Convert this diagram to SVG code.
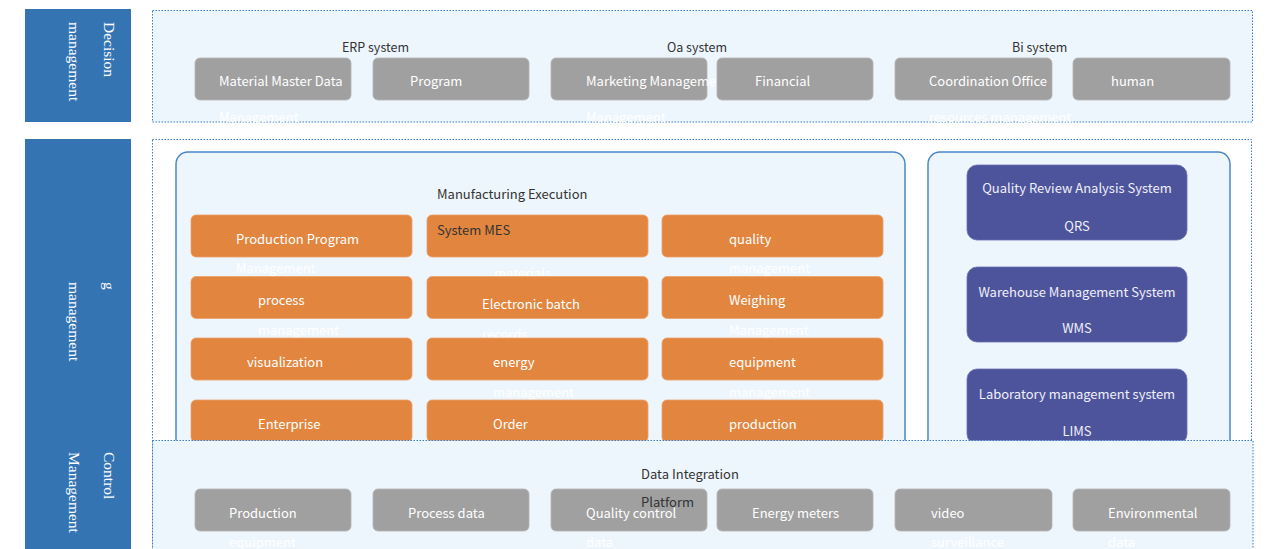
<svg xmlns="http://www.w3.org/2000/svg" width="1267" height="549" viewBox="0 0 1267 549">
<style>
.side{fill:#3574b3}
.vt{font-family:"Liberation Serif",serif;font-size:15.5px;fill:#ffffff}
.panel{fill:#eef6fd;stroke:#3b7bc3;stroke-width:1;stroke-dasharray:1.5 1.5}
.panelw{fill:#ffffff;stroke:#3b7bc3;stroke-width:1;stroke-dasharray:1.5 1.5}
.cont{fill:#eef6fd;stroke:#4a86c6;stroke-width:1.5}
.gray{fill:#a0a0a0;stroke:#b4b4b4;stroke-width:0.8}
.org{fill:#e2863f;stroke:#eba06a;stroke-width:0.8}
.pur{fill:#4e549b;stroke:#6a70ae;stroke-width:0.8}
.t{font-family:"Noto Sans CJK SC","Noto Sans",sans-serif;font-size:13px}
.ts{font-size:12.5px}
.w{fill:#ffffff}
.lp{fill:#eef0fa}
.d{fill:#333333}
</style>
<rect width="1267" height="549" fill="#ffffff"/>

<g id="sidebar-decision">
<rect class="side" x="25" y="9" width="106" height="113"/>
<text class="vt" transform="translate(104,22) rotate(90)">Decision</text>
<text class="vt" transform="translate(68.5,22) rotate(90)">management</text>
</g>
<g id="sidebar-lower">
<rect class="side" x="25" y="139" width="106" height="410"/>
<text class="vt" transform="translate(104,282) rotate(90)">g</text>
<text class="vt" transform="translate(68.5,282) rotate(90)">management</text>
<text class="vt" transform="translate(104,452) rotate(90)">Control</text>
<text class="vt" transform="translate(68.5,452) rotate(90)">Management</text>
</g>

<g id="decision-layer">
<rect class="panel" x="152.5" y="10.5" width="1100" height="111.5"/>
<text class="t ts d" x="342" y="52">ERP system</text>
<text class="t ts d" x="667" y="52">Oa system</text>
<text class="t ts d" x="1012" y="52">Bi system</text>
</g>
<g id="n-material">
<rect class="gray" x="195" y="58" width="156" height="42" rx="5"/>
<text class="t w" x="219" y="86">Material Master Data</text>
<text class="t w" x="219" y="122">Management</text>
</g>
<g id="n-program">
<rect class="gray" x="373" y="58" width="156" height="42" rx="5"/>
<text class="t w" x="410" y="86">Program</text>
</g>
<g id="n-marketing">
<rect class="gray" x="551" y="58" width="156" height="42" rx="5"/>
<text class="t w" x="586" y="86">Marketing Management</text>
<text class="t w" x="586" y="122">Management</text>
</g>
<g id="n-financial">
<rect class="gray" x="717" y="58" width="156" height="42" rx="5"/>
<text class="t w" x="755" y="86">Financial</text>
</g>
<g id="n-coordination">
<rect class="gray" x="895" y="58" width="157" height="42" rx="5"/>
<text class="t w" x="929" y="86">Coordination Office</text>
<text class="t w" x="929" y="122">resources management</text>
</g>
<g id="n-human">
<rect class="gray" x="1073" y="58" width="157" height="42" rx="5"/>
<text class="t w" x="1111" y="86">human</text>
</g>

<g id="execution-layer">
<rect class="panelw" x="152.5" y="139.5" width="1099" height="420"/>
</g>
<g id="mes-container">
<rect class="cont" x="176" y="152" width="729" height="330" rx="12"/>
</g>
<g id="n-production-program">
<rect class="org" x="191" y="215" width="221" height="42" rx="5"/>
<text class="t w" x="236" y="244">Production Program</text>
<text class="t w" x="236" y="273">Management</text>
</g>
<g id="n-materials">
<rect class="org" x="427" y="215" width="221" height="42" rx="5"/>
<text class="t w" x="494" y="278">materials</text>
<text class="t w" x="494" y="315">management</text>
</g>
<g id="n-quality">
<rect class="org" x="662" y="215" width="221" height="42" rx="5"/>
<text class="t w" x="729" y="244">quality</text>
<text class="t w" x="729" y="273">management</text>
</g>
<g id="n-process">
<rect class="org" x="191" y="276.5" width="221" height="42" rx="5"/>
<text class="t w" x="258" y="305">process</text>
<text class="t w" x="258" y="335">management</text>
</g>
<g id="n-ebr">
<rect class="org" x="427" y="276.5" width="221" height="42" rx="5"/>
<text class="t w" x="482" y="309">Electronic batch</text>
<text class="t w" x="482" y="339">records</text>
</g>
<g id="n-weighing">
<rect class="org" x="662" y="276.5" width="221" height="42" rx="5"/>
<text class="t w" x="729" y="305">Weighing</text>
<text class="t w" x="729" y="335">Management</text>
</g>
<g id="n-visualization">
<rect class="org" x="191" y="338" width="221" height="42" rx="5"/>
<text class="t w" x="247" y="367">visualization</text>
</g>
<g id="n-energy">
<rect class="org" x="427" y="338" width="221" height="42" rx="5"/>
<text class="t w" x="493" y="367">energy</text>
<text class="t w" x="493" y="397">management</text>
</g>
<g id="n-equipment">
<rect class="org" x="662" y="338" width="221" height="42" rx="5"/>
<text class="t w" x="729" y="367">equipment</text>
<text class="t w" x="729" y="397">management</text>
</g>
<g id="n-enterprise">
<rect class="org" x="191" y="400" width="221" height="42" rx="5"/>
<text class="t w" x="258" y="429">Enterprise</text>
</g>
<g id="n-order">
<rect class="org" x="427" y="400" width="221" height="42" rx="5"/>
<text class="t w" x="493" y="429">Order</text>
</g>
<g id="n-production">
<rect class="org" x="662" y="400" width="221" height="42" rx="5"/>
<text class="t w" x="729" y="429">production</text>
</g>
<g id="mes-label">
<text class="t d" x="437" y="199">Manufacturing Execution</text>
<text class="t d" x="437" y="235">System MES</text>
</g>

<g id="systems-container">
<rect class="cont" x="928" y="152" width="302" height="330" rx="12"/>
</g>
<g id="n-qrs">
<rect class="pur" x="967" y="165" width="220" height="75" rx="10"/>
<text class="t lp" x="1077" y="193" text-anchor="middle">Quality Review Analysis System</text>
<text class="t lp" x="1077" y="231" text-anchor="middle">QRS</text>
</g>
<g id="n-wms">
<rect class="pur" x="967" y="267" width="220" height="75" rx="10"/>
<text class="t lp" x="1077" y="297" text-anchor="middle">Warehouse Management System</text>
<text class="t lp" x="1077" y="333" text-anchor="middle">WMS</text>
</g>
<g id="n-lims">
<rect class="pur" x="967" y="369" width="220" height="75" rx="10"/>
<text class="t lp" x="1077" y="399" text-anchor="middle">Laboratory management system</text>
<text class="t lp" x="1077" y="436" text-anchor="middle">LIMS</text>
</g>

<g id="control-layer">
<rect class="panel" x="152.5" y="440.5" width="1100.5" height="120"/>
</g>
<g id="n-prod-equipment">
<rect class="gray" x="195" y="489" width="156" height="42" rx="5"/>
<text class="t w" x="229" y="518">Production</text>
<text class="t w" x="229" y="547">equipment</text>
</g>
<g id="n-process-data">
<rect class="gray" x="373" y="489" width="156" height="42" rx="5"/>
<text class="t w" x="408" y="518">Process data</text>
</g>
<g id="n-quality-data">
<rect class="gray" x="551" y="489" width="156" height="42" rx="5"/>
<text class="t w" x="586" y="518">Quality control</text>
<text class="t w" x="586" y="547">data</text>
</g>
<g id="n-energy-meters">
<rect class="gray" x="717" y="489" width="156" height="42" rx="5"/>
<text class="t w" x="752" y="518">Energy meters</text>
</g>
<g id="n-video">
<rect class="gray" x="895" y="489" width="157" height="42" rx="5"/>
<text class="t w" x="931" y="518">video</text>
<text class="t w" x="931" y="547">surveillance</text>
</g>
<g id="n-environmental">
<rect class="gray" x="1073" y="489" width="157" height="42" rx="5"/>
<text class="t w" x="1108" y="518">Environmental</text>
<text class="t w" x="1108" y="547">data</text>
</g>
<g id="dip-label">
<text class="t d" x="641" y="479">Data Integration</text>
<text class="t d" x="641" y="507">Platform</text>
</g>

<g id="connectors"></g>
</svg>
